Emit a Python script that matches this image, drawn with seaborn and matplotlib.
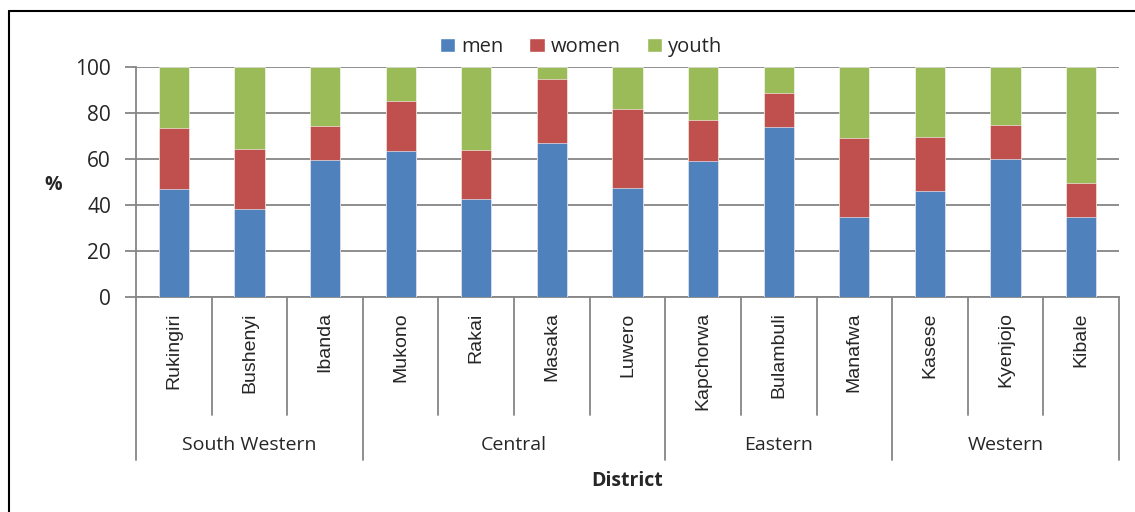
import pandas as pd
import matplotlib.pyplot as plt
import seaborn as sns
from matplotlib.lines import Line2D
from matplotlib.patches import Patch

# --- DATA ---
districts = ["Rukingiri", "Bushenyi", "Ibanda", "Mukono", "Rakai", "Masaka", "Luwero",
             "Kapchorwa", "Bulambuli", "Manafwa", "Kasese", "Kyenjojo", "Kibale"]
regions = ["South Western", "Central", "Eastern", "Western"]
region_sizes = [3, 4, 3, 3]
men = [46.8, 38.4, 59.4, 63.3, 42.5, 67.1, 47.3, 59.1, 73.7, 34.7, 46.2, 59.8, 34.7]
women = [26.8, 26.1, 15.0, 22.1, 21.2, 27.7, 34.3, 17.8, 15.2, 34.5, 23.5, 15.1, 15.0]
youth = [26.4, 35.5, 25.6, 14.6, 36.3, 5.2, 18.4, 23.1, 11.1, 30.8, 30.3, 25.1, 50.3]

colors = {"men": "#4F81BD", "women": "#C0504D", "youth": "#9BBB59"}
GRID = "#868686"
FONT = "Open Sans"

df = pd.DataFrame({"district": districts, "men": men, "women": women, "youth": youth})
df["men_top"] = df["men"]
df["women_top"] = df["men"] + df["women"]
df["youth_top"] = df["women_top"] + df["youth"]

sns.set_style("white")
plt.rcParams["font.family"] = [FONT, "DejaVu Sans"]

fig = plt.figure(figsize=(11.35, 5.12), dpi=100)
ax = fig.add_axes([136 / 1135, 1 - 297 / 512, (1119 - 136) / 1135, (297 - 67) / 512])

# stacked bars: draw cumulative totals from the top down
for layer in ["youth", "women", "men"]:
    sns.barplot(data=df, x="district", y=f"{layer}_top", color=colors[layer],
                width=0.4, saturation=1, ax=ax, zorder=3,
                edgecolor="white", linewidth=0.4)

ax.set_xlim(-0.5, len(districts) - 0.5)
ax.set_ylim(0, 100)
ax.set_yticks([0, 20, 40, 60, 80, 100])
ax.yaxis.grid(True, color=GRID, linewidth=1.3, zorder=0)
ax.tick_params(axis="y", labelsize=15, length=8, width=1.3, color=GRID, left=True, pad=10)
for s in ["top", "right"]:
    ax.spines[s].set_visible(False)
for s in ["left", "bottom"]:
    ax.spines[s].set_color(GRID)
    ax.spines[s].set_linewidth(1.3)

ax.set_ylabel("")
ax.set_xlabel("")
ax.set_xticks(range(len(districts)))
ax.set_xticklabels(districts, rotation=90, fontsize=14, family="Liberation Sans", va="top")
ax.tick_params(axis="x", length=0, pad=11)

# category separators below the axis
trans = ax.get_xaxis_transform()
edges = [-0.5]
for n in region_sizes:
    edges.append(edges[-1] + n)
for i in range(len(districts) + 1):
    xpos = i - 0.5
    y_end = -0.709 if xpos in edges else -0.513
    ax.plot([xpos, xpos], [0, y_end], color=GRID, linewidth=1.3,
            transform=trans, clip_on=False)

# region labels
for name, lo, hi in zip(regions, edges[:-1], edges[1:]):
    ax.text((lo + hi) / 2, -0.645, name, transform=trans, ha="center", va="center",
            fontsize=14)

fig.text(627 / 1135, 1 - 481 / 512, "District", ha="center", va="center",
         fontsize=14, fontweight="bold")
fig.text(53 / 1135, 1 - 185 / 512, "%", ha="center", va="center",
         fontsize=14, fontweight="bold")

handles = [Patch(facecolor=colors[k], label=k) for k in ["men", "women", "youth"]]
fig.legend(handles=handles, loc="center", bbox_to_anchor=(581 / 1135, 1 - 47 / 512),
           ncol=3, frameon=False, fontsize=14.5, handlelength=0.75, handleheight=0.75,
           handletextpad=0.3, columnspacing=1.3)

# outer frame (only left and top visible in the reference)
fig.add_artist(Line2D([9 / 1135, 9 / 1135], [0, 1 - 11 / 512], color="black",
                      linewidth=1.5, transform=fig.transFigure))
fig.add_artist(Line2D([9 / 1135, 1], [1 - 11 / 512, 1 - 11 / 512], color="black",
                      linewidth=1.5, transform=fig.transFigure))

fig.savefig("out.png", dpi=100)
